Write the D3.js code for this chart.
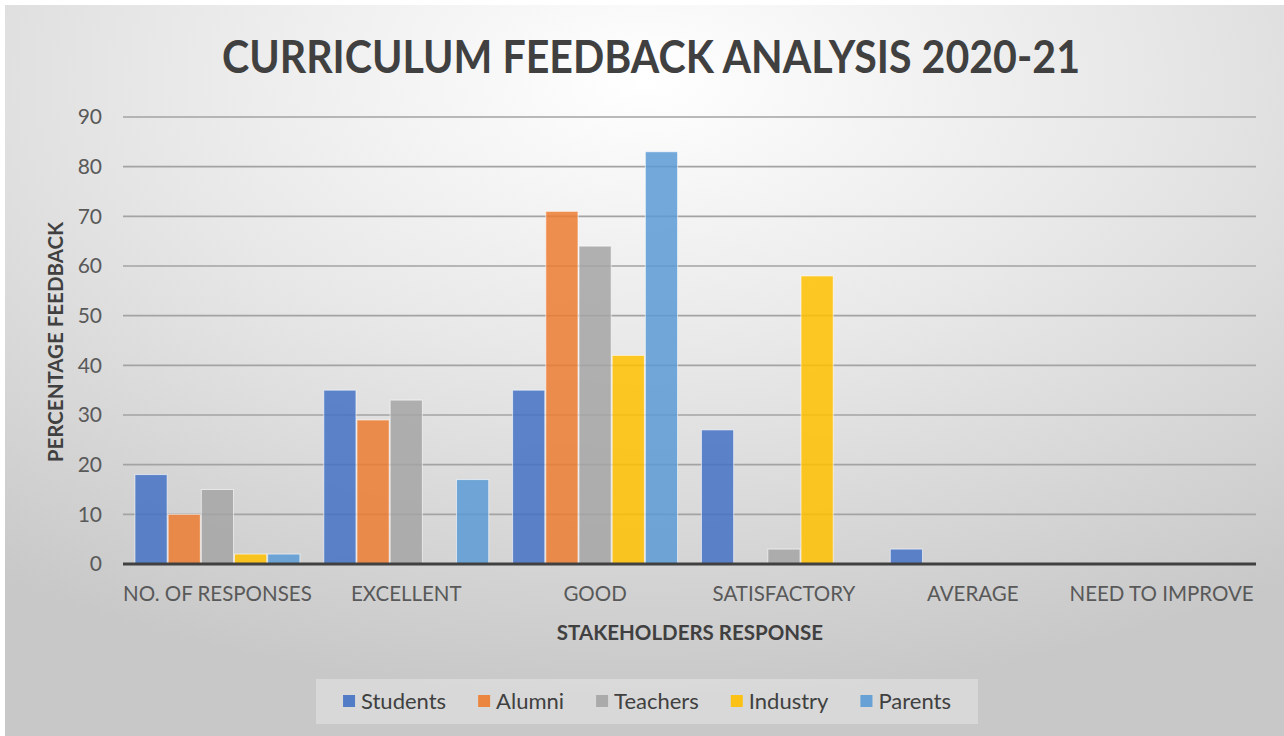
<!DOCTYPE html>
<html>
<head>
<meta charset="utf-8">
<script src="https://cdn.jsdelivr.net/npm/d3@7"></script>
<style>
  body { margin: 0; background: #fff; }
  text { font-family: Lato, "Open Sans", sans-serif; }
</style>
</head>
<body>
<svg id="chart" width="1284" height="736"></svg>
<script>
// categories along the x axis
const categories = ["NO. OF RESPONSES", "EXCELLENT", "GOOD", "SATISFACTORY", "AVERAGE", "NEED TO IMPROVE"];
// stakeholder series
const seriesNames = ["Students", "Alumni", "Teachers", "Industry", "Parents"];
const students = [18, 35, 35, 27, 3, 0];
const alumni   = [10, 29, 71, 0, 0, 0];
const teachers = [15, 33, 64, 3, 0, 0];
const industry = [2, 0, 42, 58, 0, 0];
const parents  = [2, 17, 83, 0, 0, 0];
const yTicks = [0, 10, 20, 30, 40, 50, 60, 70, 80, 90];

const seriesValues = [students, alumni, teachers, industry, parents];
const colors = ["#4472C4", "#ED7D31", "#A5A5A5", "#FFC000", "#5B9BD5"];

const svg = d3.select("#chart");

// background with soft radial shading
const defs = svg.append("defs");
const grad = defs.append("radialGradient")
    .attr("id", "bg").attr("cx", "50%").attr("cy", "10%").attr("r", "85%");
grad.append("stop").attr("offset", "0%").attr("stop-color", "#ffffff");
grad.append("stop").attr("offset", "45%").attr("stop-color", "#e8e8e8");
grad.append("stop").attr("offset", "100%").attr("stop-color", "#c8c8c8");

svg.append("rect")
    .attr("x", 5).attr("y", 5).attr("width", 1279).attr("height", 731)
    .attr("fill", "url(#bg)");

// scales
const x0 = d3.scaleBand().domain(categories).range([123, 1256])
    .paddingInner(0.116).paddingOuter(0.058);
const x1 = d3.scaleBand().domain(seriesNames).range([0, x0.bandwidth()]).padding(0.03);
const y = d3.scaleLinear().domain([0, 90]).range([564, 117]);

// gridlines
svg.append("g")
    .selectAll("line")
    .data(yTicks.filter(d => d > 0))
    .join("line")
    .attr("x1", 123).attr("x2", 1256)
    .attr("y1", d => y(d)).attr("y2", d => y(d))
    .attr("stroke", "#a3a3a3").attr("stroke-width", 1.6);

// y axis labels
const yAxis = d3.axisLeft(y).tickValues(yTicks).tickSize(0).tickPadding(0);
svg.append("g")
    .attr("transform", "translate(102,0)")
    .call(yAxis)
    .call(g => g.select(".domain").remove())
    .selectAll("text")
    .attr("font-size", 21).attr("fill", "#595959")
    .style("font-family", "Lato, 'Open Sans', sans-serif");

// bars
const groups = svg.append("g").selectAll("g")
    .data(categories)
    .join("g")
    .attr("transform", d => `translate(${x0(d)},0)`);

groups.selectAll("rect")
    .data((c, i) => seriesNames.map((s, j) => ({ s: s, v: seriesValues[j][i], c: colors[j] })))
    .join("rect")
    .filter(d => d.v > 0)
    .attr("x", d => x1(d.s))
    .attr("y", d => y(d.v))
    .attr("width", x1.bandwidth())
    .attr("height", d => y(0) - y(d.v))
    .attr("fill", d => d.c)
    .attr("fill-opacity", 0.85)
    .attr("stroke", "#ffffff")
    .attr("stroke-opacity", 0.6)
    .attr("stroke-width", 1);

// x axis
const xAxis = d3.axisBottom(x0).tickSize(0).tickPadding(0);
svg.append("g")
    .attr("transform", `translate(0,${y(0)})`)
    .call(xAxis)
    .call(g => g.select(".domain").remove())
    .selectAll("text")
    .attr("dy", 0).attr("y", 37)
    .attr("font-size", 20.5).attr("fill", "#595959")
    .style("font-family", "Lato, 'Open Sans', sans-serif");

svg.append("line")
    .attr("x1", 123).attr("x2", 1256)
    .attr("y1", y(0)).attr("y2", y(0))
    .attr("stroke", "#404040").attr("stroke-width", 3);

// titles
svg.append("text")
    .attr("x", 651).attr("y", 73)
    .attr("text-anchor", "middle")
    .attr("font-size", 46).attr("font-weight", "bold")
    .attr("fill", "#404040")
    .attr("textLength", 858).attr("lengthAdjust", "spacingAndGlyphs")
    .text("CURRICULUM FEEDBACK ANALYSIS 2020-21");

svg.append("text")
    .attr("x", 690).attr("y", 640)
    .attr("text-anchor", "middle")
    .attr("font-size", 20.5).attr("font-weight", "bold")
    .attr("fill", "#404040")
    .text("STAKEHOLDERS RESPONSE");

svg.append("text")
    .attr("transform", "translate(63,342) rotate(-90)")
    .attr("text-anchor", "middle")
    .attr("font-size", 20.5).attr("font-weight", "bold")
    .attr("fill", "#404040")
    .text("PERCENTAGE FEEDBACK");

// legend
svg.append("rect")
    .attr("x", 316).attr("y", 679).attr("width", 662).attr("height", 45)
    .attr("fill", "#ffffff").attr("fill-opacity", 0.3);

const legend = svg.append("g");
let lx = 0;
seriesNames.forEach((s, i) => {
    const g = legend.append("g");
    g.append("rect")
        .attr("x", lx).attr("y", 695).attr("width", 12).attr("height", 12)
        .attr("fill", colors[i]).attr("fill-opacity", 0.9);
    const t = g.append("text")
        .attr("x", lx + 18).attr("y", 709)
        .attr("font-size", 22).attr("fill", "#404040")
        .text(s);
    lx += 18 + t.node().getComputedTextLength() + 32;
});
const legendWidth = lx - 32;
legend.attr("transform", `translate(${647 - legendWidth / 2},0)`);
</script>
</body>
</html>
